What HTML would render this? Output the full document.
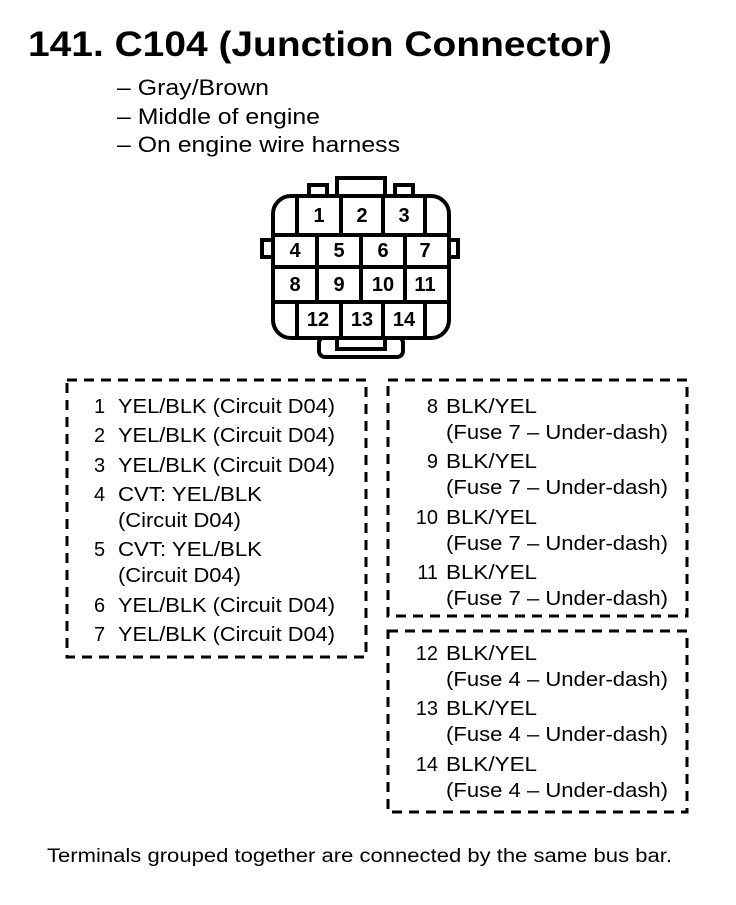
<!DOCTYPE html>
<html><head><style>
body{margin:0;background:#fff;}
svg text{font-family:"Liberation Sans",Arial,sans-serif;fill:#000;}
</style></head><body>
<svg width="736" height="900" viewBox="0 0 736 900" xmlns="http://www.w3.org/2000/svg">
<text x="28" y="56" font-size="35" font-weight="bold" textLength="584" lengthAdjust="spacingAndGlyphs">141. C104 (Junction Connector)</text>
<g font-size="22">
<text x="117" y="95" textLength="152" lengthAdjust="spacingAndGlyphs">– Gray/Brown</text>
<text x="117" y="124" textLength="203" lengthAdjust="spacingAndGlyphs">– Middle of engine</text>
<text x="117" y="152" textLength="283" lengthAdjust="spacingAndGlyphs">– On engine wire harness</text>
</g>
<!-- connector -->
<g stroke="#000" stroke-width="4" fill="#fff">
<rect x="337" y="178" width="48" height="20"/>
<rect x="309" y="185" width="18" height="14"/>
<rect x="395" y="185" width="18" height="14"/>
<rect x="262" y="240" width="12" height="17"/>
<rect x="446" y="240" width="12" height="17"/>
<rect x="319" y="337" width="84" height="20" rx="6"/>
<rect x="337" y="337" width="48" height="12"/>
<rect x="273" y="196" width="176" height="142" rx="18"/>
</g>
<g stroke="#000" stroke-width="4">
<line x1="273" y1="235" x2="449" y2="235"/>
<line x1="273" y1="267" x2="449" y2="267"/>
<line x1="273" y1="302" x2="449" y2="302"/>
<line x1="297" y1="196" x2="297" y2="235"/>
<line x1="341" y1="196" x2="341" y2="235"/>
<line x1="383" y1="196" x2="383" y2="235"/>
<line x1="425" y1="196" x2="425" y2="235"/>
<line x1="317" y1="235" x2="317" y2="302"/>
<line x1="361" y1="235" x2="361" y2="302"/>
<line x1="405" y1="235" x2="405" y2="302"/>
<line x1="297" y1="302" x2="297" y2="338"/>
<line x1="341" y1="302" x2="341" y2="338"/>
<line x1="383" y1="302" x2="383" y2="338"/>
<line x1="425" y1="302" x2="425" y2="338"/>
</g>
<g font-size="20" font-weight="bold" text-anchor="middle">
<text x="319" y="222">1</text><text x="362" y="222">2</text><text x="404" y="222">3</text>
<text x="295" y="257">4</text><text x="339" y="257">5</text><text x="383" y="257">6</text><text x="425" y="257">7</text>
<text x="295" y="291">8</text><text x="339" y="291">9</text><text x="383" y="291">10</text><text x="425" y="291">11</text>
<text x="318" y="326">12</text><text x="362" y="326">13</text><text x="404" y="326">14</text>
</g>
<!-- boxes -->
<g fill="none" stroke="#000" stroke-width="3" stroke-dasharray="10,7">
<rect x="67" y="380" width="299" height="277"/>
<rect x="388" y="380" width="299" height="236"/>
<rect x="388" y="631" width="299" height="181"/>
</g>
<g font-size="20">
<text x="94" y="413">1</text><text x="118" y="413" textLength="217" lengthAdjust="spacingAndGlyphs">YEL/BLK (Circuit D04)</text>
<text x="94" y="442">2</text><text x="118" y="442" textLength="217" lengthAdjust="spacingAndGlyphs">YEL/BLK (Circuit D04)</text>
<text x="94" y="472">3</text><text x="118" y="472" textLength="217" lengthAdjust="spacingAndGlyphs">YEL/BLK (Circuit D04)</text>
<text x="94" y="501">4</text><text x="118" y="501" textLength="144" lengthAdjust="spacingAndGlyphs">CVT: YEL/BLK</text>
<text x="118" y="527" textLength="123" lengthAdjust="spacingAndGlyphs">(Circuit D04)</text>
<text x="94" y="556">5</text><text x="118" y="556" textLength="144" lengthAdjust="spacingAndGlyphs">CVT: YEL/BLK</text>
<text x="118" y="582" textLength="123" lengthAdjust="spacingAndGlyphs">(Circuit D04)</text>
<text x="94" y="612">6</text><text x="118" y="612" textLength="217" lengthAdjust="spacingAndGlyphs">YEL/BLK (Circuit D04)</text>
<text x="94" y="641">7</text><text x="118" y="641" textLength="217" lengthAdjust="spacingAndGlyphs">YEL/BLK (Circuit D04)</text>
</g>
<g font-size="20">
<text x="438" y="413" text-anchor="end">8</text><text x="446" y="413" textLength="91" lengthAdjust="spacingAndGlyphs">BLK/YEL</text>
<text x="446" y="439" textLength="222" lengthAdjust="spacingAndGlyphs">(Fuse 7 – Under-dash)</text>
<text x="438" y="468" text-anchor="end">9</text><text x="446" y="468" textLength="91" lengthAdjust="spacingAndGlyphs">BLK/YEL</text>
<text x="446" y="494" textLength="222" lengthAdjust="spacingAndGlyphs">(Fuse 7 – Under-dash)</text>
<text x="438" y="524" text-anchor="end">10</text><text x="446" y="524" textLength="91" lengthAdjust="spacingAndGlyphs">BLK/YEL</text>
<text x="446" y="550" textLength="222" lengthAdjust="spacingAndGlyphs">(Fuse 7 – Under-dash)</text>
<text x="438" y="579" text-anchor="end">11</text><text x="446" y="579" textLength="91" lengthAdjust="spacingAndGlyphs">BLK/YEL</text>
<text x="446" y="605" textLength="222" lengthAdjust="spacingAndGlyphs">(Fuse 7 – Under-dash)</text>
<text x="438" y="660" text-anchor="end">12</text><text x="446" y="660" textLength="91" lengthAdjust="spacingAndGlyphs">BLK/YEL</text>
<text x="446" y="686" textLength="222" lengthAdjust="spacingAndGlyphs">(Fuse 4 – Under-dash)</text>
<text x="438" y="715" text-anchor="end">13</text><text x="446" y="715" textLength="91" lengthAdjust="spacingAndGlyphs">BLK/YEL</text>
<text x="446" y="741" textLength="222" lengthAdjust="spacingAndGlyphs">(Fuse 4 – Under-dash)</text>
<text x="438" y="771" text-anchor="end">14</text><text x="446" y="771" textLength="91" lengthAdjust="spacingAndGlyphs">BLK/YEL</text>
<text x="446" y="797" textLength="222" lengthAdjust="spacingAndGlyphs">(Fuse 4 – Under-dash)</text>
</g>
<text x="47" y="862" font-size="19" textLength="625" lengthAdjust="spacingAndGlyphs">Terminals grouped together are connected by the same bus bar.</text>
</svg>
</body></html>
